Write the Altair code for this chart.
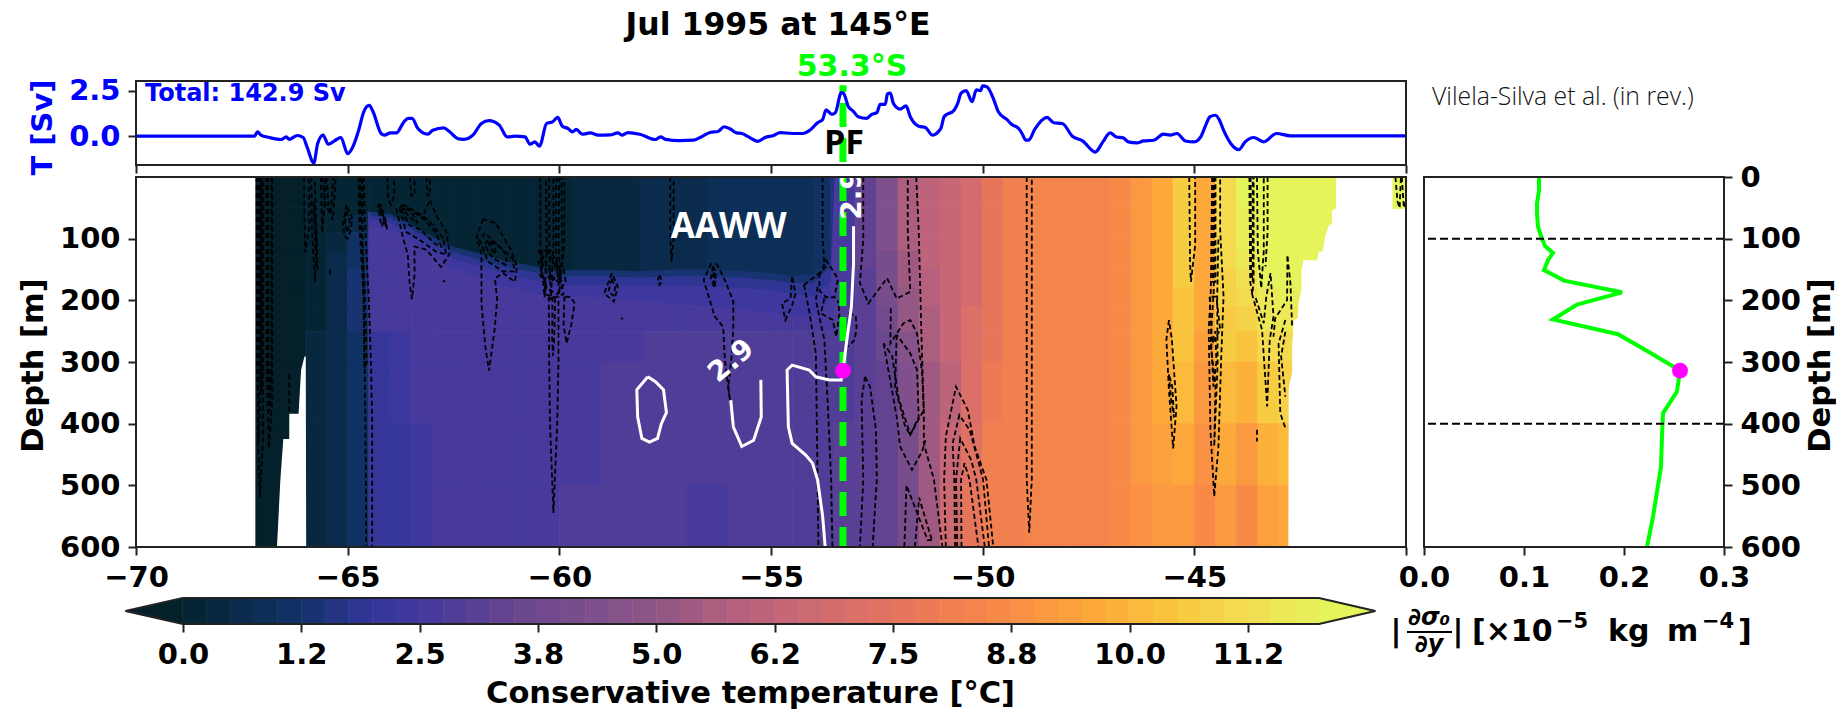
import altair as alt
import numpy as np
import pandas as pd

TITLE = "Jul 1995 at 145°E"
LON_TICKS = [-70, -65, -60, -55, -50, -45, -40]
DEPTH_TICKS = [100, 200, 300, 400, 500, 600]
CBAR_TICKS = [0, 1.25, 2.5, 3.75, 5, 6.25, 7.5, 8.75, 10, 11.25]
CBAR_LABELS = ["0.0", "1.2", "2.5", "3.8", "5.0", "6.2", "7.5", "8.8", "10.0", "11.2"]

TRANSPORT_LON = [-70, -67.2, -67.13, -67.05, -66.85, -66.57, -66.45, -66.38, -66.19, -66.05, -65.96, -65.80, -65.71, -65.58, -65.46, -65.26, -65.16, -65.00, -64.88, -64.74, -64.62, -64.49, -64.40, -64.21, -64.13, -63.99, -63.85, -63.67, -63.57, -63.48, -63.34, -63.11, -62.99, -62.73, -62.59, -62.40, -62.26, -62.03, -61.84, -61.66, -61.42, -61.23, -61.05, -60.81, -60.69, -60.58, -60.47, -60.30, -60.16, -60.04, -59.93, -59.79, -59.69, -59.60, -59.46, -59.27, -59.08, -58.80, -58.62, -58.52, -58.38, -58.10, -57.73, -57.61, -57.49, -57.17, -56.84, -56.65, -56.42, -56.25, -56.11, -55.97, -55.81, -55.69, -55.53, -55.31, -55.14, -54.94, -54.78, -54.50, -54.26, -54.06, -53.90, -53.78, -53.70, -53.56, -53.48, -53.34, -53.29, -53.17, -53.06, -52.94, -52.74, -52.62, -52.50, -52.42, -52.30, -52.25, -52.18, -52.11, -51.95, -51.81, -51.71, -51.51, -51.35, -51.19, -50.99, -50.91, -50.83, -50.71, -50.59, -50.51, -50.39, -50.25, -50.15, -50.05, -50.0, -49.89, -49.75, -49.63, -49.43, -49.31, -49.15, -49.07, -48.98, -48.92, -48.76, -48.48, -48.32, -48.12, -47.88, -47.64, -47.34, -47.16, -46.99, -46.84, -46.68, -46.56, -46.36, -46.20, -45.96, -45.73, -45.57, -45.41, -45.21, -45.0, -44.85, -44.73, -44.63, -44.5, -44.4, -44.31, -44.07, -43.95, -43.8, -43.6, -43.36, -43.06, -42.73, -40]
TRANSPORT_SV = [0, 0, .24, .06, -.07, -.18, -.04, -.17, .04, -.07, -.59, -1.47, -.41, .06, -.44, -.18, -.07, -.96, -.59, .33, 1.34, 1.69, 1.34, .15, .06, .18, .18, .79, .98, .98, .42, .11, .33, .46, .24, -.13, -.17, .09, .70, .85, .61, -.04, 0, -.04, -.44, -.31, -.55, .70, .79, 1.03, .55, .42, .24, .37, .11, .18, .06, .07, .18, .06, .20, .11, -.18, -.04, -.17, -.24, -.22, -.04, .22, .26, .52, .41, .18, .15, -.04, -.28, -.07, .04, .20, .15, .15, .37, .74, .92, 1.44, 1.20, 1.29, 2.39, 2.36, 1.62, 1.38, 1.07, .98, 1.20, 1.29, 1.75, 1.75, 2.32, 2.36, 1.80, 1.49, 1.66, 1.07, .55, .48, .06, .42, 1.07, 1.22, 1.34, 1.80, 2.36, 2.50, 1.90, 2.54, 2.50, 2.76, 2.69, 2.08, 1.34, .92, .64, .42, .15, -.22, -.22, .42, 1.03, .74, .70, 0, -.26, -.87, -.31, .18, -.04, -.09, -.31, -.37, -.26, -.22, .11, .06, .15, -.26, -.31, -.04, .61, 1.07, 1.15, .85, .33, -.59, -.74, -.31, -.07, -.31, .15, .02, .02]

GRAD_DEPTH = [0, 22, 43, 59, 81, 100, 112, 123, 135, 151, 168, 187, 207, 231, 255, 283, 314, 348, 383, 421, 470, 551, 600]
GRAD_VALUE = [.115, .115, .113, .113, .114, .118, .121, .129, .124, .120, .14, .198, .153, .129, .194, .224, .256, .253, .239, .238, .237, .229, .223]

LON_EDGES = [-67.17, -66.5, -66, -65.5, -65, -64.5, -64, -63.5, -63, -62, -61, -60, -59, -58, -57, -56, -55, -54.5, -54, -53.5, -53, -52.5, -52, -51.5, -51, -50.5, -50, -49.5, -49, -48, -47, -46.5, -46, -45.5, -45, -44.5, -44, -43.5, -43, -42.5, -41.65]
DEPTH_EDGES = [0, 50, 90, 120, 150, 180, 210, 250, 300, 400, 500, 600]
T_0_50 = [-0.1, -0.1, 0.05, 0.1, 0.1, 2.55, 2.55, 2.55, 2.55, 2.55, 2.55, 2.55, 2.55, 2.55, 2.55, 2.55, 2.55, 2.55, 2.55, 2.6, 3.3, 4.4, 5.6, 6.0, 6.3, 6.9, 7.6, 8.2, 8.3, 8.3, 8.6, 9.0, 9.6, 10.7, 9.6, 11.2, 12.0, 12.5, 12.5, 12.5]
T_50_90 = [-0.1, -0.1, 0.05, 0.2, 0.6, 2.55, 2.55, 2.55, 2.55, 2.55, 2.55, 2.55, 2.55, 2.55, 2.55, 2.55, 2.55, 2.55, 2.55, 2.6, 3.3, 4.4, 5.6, 6.0, 6.3, 6.9, 7.6, 8.2, 8.3, 8.3, 8.6, 9.0, 9.6, 10.7, 9.6, 11.2, 11.9, 12.4, 12.5, 12.5]
T_90_120 = [-0.1, -0.1, 0.1, 0.4, 1.1, 2.55, 2.55, 2.55, 2.55, 2.55, 2.55, 2.55, 2.55, 2.55, 2.55, 2.55, 2.55, 2.55, 2.55, 2.7, 3.3, 4.3, 5.5, 6.0, 6.3, 6.9, 7.5, 8.2, 8.3, 8.3, 8.6, 9.0, 9.5, 10.6, 9.5, 11.1, 11.8, 12.4, 12.4, 12.4]
T_120_150 = [-0.1, -0.1, 0.2, 0.6, 1.2, 2.55, 2.55, 2.55, 2.55, 2.55, 2.55, 2.55, 2.55, 2.55, 2.55, 2.55, 2.55, 2.55, 2.55, 2.7, 3.3, 4.2, 5.4, 6.0, 6.3, 6.9, 7.5, 8.2, 8.3, 8.3, 8.6, 9.0, 9.5, 10.5, 9.5, 11.0, 11.6, 12.2, 12.3, 12.3]
T_150_180 = [-0.1, -0.1, 0.2, 0.7, 1.3, 2.55, 2.55, 2.6, 2.6, 2.6, 2.6, 2.55, 2.55, 2.55, 2.55, 2.55, 2.55, 2.55, 2.55, 2.7, 3.2, 4.1, 5.3, 5.9, 6.3, 6.9, 7.5, 8.1, 8.3, 8.3, 8.6, 9.1, 9.5, 10.5, 9.5, 10.9, 11.3, 12.0, 12.1, 12.2]
T_180_210 = [-0.1, -0.1, 0.2, 0.7, 1.3, 2.55, 2.55, 2.6, 2.6, 2.6, 2.6, 2.6, 2.6, 2.6, 2.6, 2.6, 2.6, 2.6, 2.6, 2.7, 3.2, 4.0, 5.1, 5.8, 6.3, 6.9, 7.5, 8.1, 8.3, 8.3, 8.6, 9.1, 9.5, 10.4, 9.5, 10.8, 11.0, 11.7, 11.9, 12.0]
T_210_250 = [-0.1, -0.1, 0.2, 0.7, 1.3, 2.5, 2.5, 2.6, 2.6, 2.7, 2.7, 2.65, 2.65, 2.65, 2.6, 2.6, 2.6, 2.6, 2.6, 2.8, 3.2, 3.9, 5.0, 5.7, 6.3, 7.0, 7.6, 8.1, 8.3, 8.4, 8.7, 9.2, 9.6, 10.4, 9.5, 10.7, 10.8, 11.5, 11.7, 11.9]
T_250_300 = [-0.1, -0.1, 0.3, 0.7, 1.2, 2.2, 2.4, 2.6, 2.7, 2.7, 2.7, 2.7, 2.7, 2.8, 2.8, 2.8, 2.8, 2.8, 2.8, 2.95, 3.1, 3.6, 4.6, 5.6, 6.3, 7.0, 7.7, 8.2, 8.3, 8.4, 8.7, 9.2, 9.7, 10.3, 9.4, 10.5, 10.4, 11.0, 11.2, 11.4]
T_300_400 = [-0.1, -0.1, 0.3, 0.7, 1.2, 2.1, 2.3, 2.5, 2.6, 2.7, 2.7, 2.7, 2.8, 2.85, 2.85, 2.9, 2.85, 2.85, 2.85, 2.95, 3.1, 3.4, 4.3, 5.4, 6.2, 7.0, 7.8, 8.2, 8.3, 8.4, 8.7, 9.2, 9.6, 10.0, 9.2, 10.1, 9.9, 10.6, 10.8, 11.0]
T_400_500 = [-0.1, -0.1, 0.3, 0.7, 1.1, 2.0, 2.2, 2.4, 2.6, 2.7, 2.7, 2.7, 2.8, 2.85, 2.85, 2.9, 2.85, 2.85, 2.9, 3.0, 3.1, 3.4, 4.2, 5.3, 6.3, 7.4, 8.0, 8.2, 8.3, 8.4, 8.6, 9.0, 9.3, 9.6, 8.8, 9.5, 9.1, 9.8, 10.2, 10.2]
T_500_600 = [-0.1, -0.1, 0.3, 0.7, 1.2, 2.0, 2.2, 2.3, 2.5, 2.6, 2.7, 2.75, 2.8, 2.8, 2.7, 2.9, 2.9, 2.9, 2.95, 3.0, 3.1, 3.4, 4.2, 5.3, 6.5, 7.6, 8.1, 8.2, 8.3, 8.4, 8.5, 8.8, 9.0, 9.2, 8.6, 9.2, 8.7, 9.3, 9.7, 9.8]
T_ROWS = [T_0_50, T_50_90, T_90_120, T_120_150, T_150_180, T_180_210, T_210_250, T_250_300, T_300_400, T_400_500, T_500_600]

# depth of the cold AAWW layer's base, read along longitude, one list per isotherm
BASE_LON = [-64.48, -64.0, -63.46, -62.99, -62.5, -61.88, -61.25, -60.7, -60.07, -59.68, -58.9, -58.1, -57.3, -56.5, -55.7, -55.0, -54.5, -54.0, -53.6, -53.5]
BASE_T10 = [56, 60, 78, 97, 113, 124, 137, 143, 153, 151, 151, 153, 150, 150, 152, 156, 160, 158, 130, 0]
BASE_T15 = [62, 66, 85, 105, 122, 134, 147, 153, 163, 161, 161, 163, 161, 161, 163, 167, 172, 172, 145, 0]
BASE_T20 = [68, 74, 94, 115, 133, 145, 158, 166, 176, 175, 175, 177, 176, 177, 180, 183, 190, 192, 170, 0]
BASE_T25 = [78, 85, 106, 128, 148, 162, 178, 186, 196, 194, 195, 200, 205, 210, 215, 220, 225, 225, 200, 0]
COLD_LON = [-65.2, -64.8] + BASE_LON
COLD_DEPTH = [66, 62] + BASE_T10
COLD_T = [.1, .1, .1, .1, .1, .1, .1, .1, .1, .15, .2, .3, .4, .55, .6, .75, .85, .9, .95, 1.1, 1.7]

WEST_MASK = [(-66.67, 600), (-66.59, 491), (-66.52, 425), (-66.38, 425), (-66.379, 384), (-66.16, 384), (-66.1, 313), (-66.02, 291), (-65.99, 291), (-65.98, 600)]
EAST_MASK = [(-42.78, 600), (-42.77, 340), (-42.69, 318), (-42.689, 275), (-42.65, 232), (-42.56, 229), (-42.54, 205), (-42.47, 183), (-42.469, 151), (-42.42, 135), (-42.1, 135), (-42.06, 121), (-41.97, 121), (-41.91, 97), (-41.83, 80), (-41.75, 75), (-41.749, 54), (-41.65, 51), (-41.649, 0), (-41.6, 0)]

LEVELS = [0.25 * i for i in range(49)]
COLOR_T = [0, 1.2, 2, 2.5, 3.5, 4.5, 5, 5.75, 6.25, 7, 7.5, 8, 8.5, 8.8, 9.5, 10, 10.5, 11.25, 12]
COLOR_HEX = ["#04232f", "#113266", "#33359a", "#42389e", "#68458f", "#82528a", "#8f5686", "#b25f7e", "#c26579", "#d76e6b", "#e2745f", "#ef7d52", "#f6874a", "#fb8f45", "#fca43b", "#fcb53a", "#f8c840", "#f3dd52", "#e6f25a"]

BLACK_CONTOURS = [
    [(-67.12, 0), (-67.12, 420), (-67.07, 520), (-67.0, 420), (-67.0, 0)],
    [(-67.07, 0), (-67.07, 300), (-67.04, 350), (-67.02, 300), (-67.03, 0)],
    [(-67.15, 0), (-67.14, 300), (-67.1, 430), (-67.05, 300), (-67.05, 0)],
    [(-66.92, 0), (-66.91, 300), (-66.86, 440), (-66.78, 360), (-66.78, 0)],
    [(-66.88, 0), (-66.87, 300), (-66.84, 380), (-66.8, 300), (-66.8, 0)],
    [(-66.38, 320), (-66.38, 384)],
    [(-66.03, 0), (-66.02, 60), (-66.0, 122), (-65.9, 80), (-65.92, 0)],
    [(-65.86, 0), (-65.84, 90), (-65.77, 170), (-65.73, 100), (-65.78, 0)],
    [(-65.80, 40), (-65.72, 120), (-65.71, 150), (-65.76, 120), (-65.80, 40)],
    [(-65.63, 0), (-65.62, 40), (-65.6, 90), (-65.55, 50), (-65.52, 0)],
    [(-65.5, 0), (-65.45, 50), (-65.35, 70), (-65.28, 0)],
    [(-65.58, 0), (-65.55, 40), (-65.4, 60), (-65.34, 0)],
    [(-65.42, 150), (-65.42, 160)],
    [(-65.03, 45), (-65.11, 75), (-65.08, 95), (-65.0, 100), (-64.92, 85), (-64.9, 65), (-65.03, 45)],
    [(-65.03, 55), (-65.07, 75), (-65.0, 90), (-64.95, 70), (-65.03, 55)],
    [(-64.74, 0), (-64.72, 80), (-64.66, 150), (-64.62, 200), (-64.6, 300), (-64.58, 400), (-64.56, 600)],
    [(-64.62, 0), (-64.6, 60), (-64.55, 130), (-64.5, 200), (-64.45, 300), (-64.42, 400), (-64.42, 600)],
    [(-64.7, 0), (-64.68, 90), (-64.6, 170), (-64.55, 300), (-64.6, 310), (-64.62, 220), (-64.64, 130), (-64.66, 0)],
    [(-64.29, 45), (-64.22, 45), (-64.1, 70), (-64.07, 85), (-64.12, 70), (-64.2, 80), (-64.25, 60), (-64.29, 45)],
    [(-64.25, 48), (-64.15, 65), (-64.1, 80), (-64.2, 60), (-64.25, 48)],
    [(-64.06, 0), (-64.05, 35), (-63.98, 45), (-63.9, 30), (-63.9, 0)],
    [(-63.53, 0), (-63.5, 30), (-63.42, 30), (-63.42, 0)],
    [(-63.14, 0), (-63.12, 30), (-63.06, 30), (-63.06, 0)],
    [(-63.85, 51), (-63.69, 99), (-63.58, 126), (-63.54, 170), (-63.48, 198), (-63.42, 159), (-63.42, 113), (-63.14, 118), (-62.79, 146), (-62.59, 124), (-62.67, 89), (-62.91, 62), (-63.06, 37), (-63.24, 67)],
    [(-63.77, 51), (-63.62, 89), (-63.3, 102), (-62.91, 121), (-62.67, 126), (-62.75, 99), (-63.06, 72), (-63.38, 56), (-63.69, 45), (-63.77, 51)],
    [(-63.73, 53), (-63.54, 78), (-63.26, 86), (-62.95, 108), (-62.79, 113), (-62.91, 91), (-63.18, 70), (-63.54, 51), (-63.73, 53)],
    [(-63.75, 45), (-63.6, 60), (-63.45, 70), (-63.35, 75), (-63.5, 55), (-63.7, 50), (-63.75, 45)],
    [(-62.75, 168), (-62.7, 170)],
    [(-61.8, 68), (-61.95, 97), (-61.84, 126), (-61.84, 205), (-61.75, 275), (-61.66, 314), (-61.53, 248), (-61.47, 199), (-61.52, 164), (-61.33, 156), (-61.05, 170), (-61.0, 145), (-61.14, 118), (-61.3, 100), (-61.5, 75), (-61.8, 68)],
    [(-61.76, 91), (-61.88, 102), (-61.69, 137), (-61.33, 153), (-61.06, 153), (-61.1, 132), (-61.41, 113), (-61.76, 91)],
    [(-61.69, 102), (-61.77, 110), (-61.57, 132), (-61.25, 143), (-61.25, 126), (-61.49, 108), (-61.69, 102)],
    [(-61.68, 105), (-61.6, 118), (-61.5, 125), (-61.55, 110), (-61.68, 105)],
    [(-60.45, 0), (-60.45, 120), (-60.35, 195), (-60.3, 120), (-60.31, 0)],
    [(-60.24, 0), (-60.24, 110), (-60.2, 200), (-60.14, 110), (-60.14, 0)],
    [(-60.07, 0), (-60.08, 120), (-60.0, 190), (-59.93, 120), (-59.95, 0)],
    [(-60.0, 0), (-60.02, 110), (-59.98, 170), (-59.88, 110), (-59.88, 0)],
    [(-60.5, 120), (-60.4, 130), (-60.45, 160), (-60.3, 175), (-60.35, 190), (-60.1, 195), (-59.9, 190), (-60, 150), (-60.2, 120), (-60.5, 120)],
    [(-60.5, 135), (-60.3, 180), (-60.05, 190), (-59.85, 170), (-59.9, 150), (-60.2, 170), (-60.4, 140), (-60.5, 135)],
    [(-60.42, 125), (-60.25, 150), (-60.1, 170), (-60.0, 165), (-60.15, 135), (-60.35, 118), (-60.42, 125)],
    [(-60.25, 194), (-60.24, 300), (-60.22, 400), (-60.14, 545), (-60.05, 400), (-60.02, 300), (-60.02, 194)],
    [(-60.16, 194), (-60.17, 260), (-60.15, 290), (-60.12, 260), (-60.1, 194)],
    [(-59.88, 194), (-59.9, 240), (-59.83, 270), (-59.72, 240), (-59.64, 205), (-59.72, 195), (-59.88, 194)],
    [(-58.76, 156), (-58.94, 189), (-58.71, 202), (-58.62, 178), (-58.76, 156)],
    [(-58.76, 165), (-58.84, 186), (-58.72, 192), (-58.68, 178), (-58.76, 165)],
    [(-58.54, 229), (-58.5, 230)],
    [(-57.63, 160), (-57.68, 168), (-57.63, 175), (-57.58, 168), (-57.63, 160)],
    [(-57.38, 0), (-57.38, 100), (-57.35, 137), (-57.3, 100), (-57.3, 0)],
    [(-56.41, 140), (-56.59, 167), (-56.33, 226), (-56.13, 243), (-56.09, 297), (-55.97, 362)],
    [(-56.29, 140), (-56.09, 167), (-55.89, 202), (-55.89, 243), (-55.93, 291), (-56.01, 340), (-55.97, 362)],
    [(-56.37, 145), (-56.42, 165), (-56.33, 180), (-56.3, 155), (-56.37, 145)],
    [(-56.35, 155), (-56.38, 165), (-56.33, 172), (-56.32, 160), (-56.35, 155)],
    [(-54.5, 162), (-54.54, 197), (-54.74, 205), (-54.66, 232), (-54.5, 208), (-54.42, 189), (-54.5, 162)],
    [(-53.78, 0), (-53.78, 100), (-53.74, 140)],
    [(-54.22, 175), (-54.1, 216), (-53.94, 286), (-53.9, 491), (-53.88, 600)],
    [(-53.9, 178), (-53.94, 200), (-53.74, 264), (-53.66, 367), (-53.58, 491), (-53.55, 600)],
    [(-53.86, 160), (-53.7, 135), (-53.6, 145), (-53.42, 165), (-53.5, 195), (-53.7, 195), (-53.85, 185), (-53.86, 160)],
    [(-54.22, 175), (-53.86, 156), (-53.7, 145)],
    [(-53.74, 197), (-53.82, 221), (-53.54, 232), (-53.46, 259), (-53.38, 221), (-53.42, 200)],
    [(-53.17, 221), (-53.0, 225), (-52.98, 243), (-53.02, 264), (-53.18, 275)],
    [(-52.78, 324), (-52.86, 362), (-52.82, 491), (-52.9, 600)],
    [(-52.78, 324), (-52.66, 340), (-52.52, 410), (-52.5, 491), (-52.6, 600)],
    [(-52.82, 0), (-52.82, 100), (-52.9, 172), (-52.7, 205), (-52.26, 164), (-52.03, 197), (-51.71, 186), (-51.77, 86), (-51.77, 0)],
    [(-51.57, 0), (-51.51, 86), (-51.45, 248), (-51.39, 383), (-51.39, 432), (-51.15, 491), (-50.95, 600)],
    [(-52.17, 213), (-52.18, 270), (-51.87, 237), (-51.71, 232), (-51.55, 254), (-51.43, 318), (-51.39, 378), (-51.71, 418), (-51.98, 360), (-52.14, 290), (-52.34, 270)],
    [(-52.34, 270), (-52.03, 389), (-51.95, 437), (-51.67, 475), (-51.43, 445), (-51.35, 427)],
    [(-52.03, 256), (-52.07, 340), (-51.83, 405), (-51.71, 418), (-51.51, 389), (-51.55, 313), (-51.71, 286), (-52.03, 256)],
    [(-51.85, 600), (-51.8, 500), (-51.3, 589), (-51.2, 589)],
    [(-51.6, 600), (-51.5, 520), (-51.2, 589)],
    [(-50.87, 600), (-50.91, 491), (-50.87, 421), (-50.63, 340), (-50.35, 378), (-50.19, 437), (-49.91, 491), (-49.75, 600)],
    [(-50.65, 600), (-50.67, 491), (-50.71, 432), (-50.55, 386), (-50.31, 410), (-50.11, 459), (-49.99, 491), (-49.85, 600)],
    [(-50.6, 600), (-50.63, 491), (-50.53, 424), (-50.27, 459), (-50.15, 491), (-49.95, 600)],
    [(-50.5, 600), (-50.51, 491), (-50.43, 464), (-50.31, 491), (-50.1, 600)],
    [(-48.96, 0), (-48.96, 490), (-48.9, 577), (-48.84, 490), (-48.84, 0)],
    [(-45.12, 0), (-45.1, 140), (-45.08, 170), (-44.98, 110), (-44.98, 0)],
    [(-45.6, 232), (-45.66, 264), (-45.6, 345), (-45.5, 440), (-45.42, 372), (-45.53, 264), (-45.6, 232)],
    [(-45.6, 320), (-45.55, 360), (-45.48, 390), (-45.52, 340), (-45.6, 320)],
    [(-44.58, 0), (-44.61, 183), (-44.66, 248), (-44.62, 410), (-44.53, 518), (-44.43, 437), (-44.37, 302), (-44.31, 194), (-44.39, 86), (-44.39, 0)],
    [(-44.53, 0), (-44.54, 183), (-44.62, 270), (-44.5, 335), (-44.53, 437), (-44.45, 302), (-44.46, 194), (-44.43, 97)],
    [(-44.64, 194), (-44.58, 270), (-44.39, 248), (-44.48, 194), (-44.64, 194)],
    [(-44.56, 0), (-44.56, 170), (-44.5, 170), (-44.5, 0)],
    [(-44.6, 270), (-44.55, 340), (-44.48, 300), (-44.5, 250), (-44.6, 270)],
    [(-43.70, 0), (-43.68, 170), (-43.63, 190), (-43.6, 170), (-43.6, 0)],
    [(-43.67, 0), (-43.66, 150), (-43.62, 170), (-43.62, 0)],
    [(-43.64, 189), (-43.4, 248), (-43.28, 372), (-43.22, 265), (-43.13, 226), (-43.2, 156), (-43.3, 194), (-43.36, 237), (-43.56, 194)],
    [(-43.52, 0), (-43.5, 120), (-43.42, 180), (-43.36, 120), (-43.36, 0)],
    [(-43.27, 0), (-43.27, 90), (-43.32, 145)],
    [(-42.8, 129), (-42.81, 200), (-43.09, 229), (-43.13, 259)],
    [(-42.8, 129), (-42.73, 172), (-42.69, 243)],
    [(-42.85, 232), (-43.01, 270), (-42.97, 383), (-42.85, 407)],
    [(-42.85, 251), (-42.95, 291), (-42.85, 356)],
    [(-43.52, 410), (-43.52, 429)],
    [(-40.25, 0), (-40.2, 40), (-40.15, 50), (-40.12, 0)],
    [(-40.1, 0), (-40.05, 50), (-40.0, 40)],
]

WHITE_CONTOURS = [
    [(-57.91, 324), (-58.17, 345), (-58.15, 389), (-58.05, 424), (-57.87, 430), (-57.68, 424), (-57.59, 400), (-57.47, 382), (-57.54, 345), (-57.73, 332), (-57.91, 324)],
    [(-55.95, 362), (-55.89, 405), (-55.69, 437), (-55.41, 427), (-55.23, 389), (-55.24, 329)],
    [(-53.72, 600), (-53.78, 550), (-53.9, 491), (-54.02, 464), (-54.18, 451), (-54.5, 432), (-54.59, 405), (-54.62, 313), (-54.5, 305), (-54.1, 313), (-53.94, 324), (-53.62, 329), (-53.34, 329), (-53.3, 313), (-53.22, 270), (-53.1, 210), (-53.05, 140), (-53.05, 80)],
]


def long_table(lines):
    rows = []
    for k, line in enumerate(lines):
        for i, (lon, depth) in enumerate(line):
            rows.append({"id": k, "i": i, "lon": lon, "depth": depth})
    return pd.DataFrame(rows)


bin_centres = [LEVELS[0] - 0.125] + [v + 0.125 for v in LEVELS[:-1]] + [12.5]
rgb = np.array([[int(h[j:j + 2], 16) for j in (1, 3, 5)] for h in COLOR_HEX], float)
BIN_COLORS = ["#%02x%02x%02x" % tuple(int(round(np.interp(c, COLOR_T, rgb[:, j]))) for j in range(3)) for c in bin_centres]
BIN_COLORS[0] = "#03202b"
BIN_COLORS[-1] = "#e4f45a"

field = []
for r, row in enumerate(T_ROWS):
    for c, t in enumerate(row):
        field.append({"lon0": LON_EDGES[c], "lon1": LON_EDGES[c + 1], "d0": DEPTH_EDGES[r], "d1": DEPTH_EDGES[r + 1], "t": t})
field.append({"lon0": -40.31, "lon1": -40, "d0": 0, "d1": 51, "t": 12.5})
field = pd.DataFrame(field)

W, H, TOP_H, RW, CB_H = 1270, 370, 84, 300, 65
FONT = "DejaVu Sans"
INK = "#222222"
BLUE = "#0000ff"
GREEN = "#00ff00"
MAGENTA = "#ff00ff"

AX = dict(domain=False, grid=False, tickColor=INK, tickWidth=2, tickSize=8, labelFont=FONT,
          labelFontSize=29, labelFontWeight="bold", labelColor="black", labelPadding=8,
          labelOverlap=False, labelFlush=False, titleFont=FONT, titleFontSize=30.5,
          titleFontWeight="bold", titleColor="black", titleBaseline="middle", titleAnchor="middle", zindex=1)

lon_scale = alt.Scale(domain=[-70, -40], nice=False, zero=False)
depth_scale = alt.Scale(domain=[0, 600], reverse=True, nice=False, zero=False)
sv_scale = alt.Scale(domain=[-1.58, 3.03], nice=False, zero=False)
grad_scale = alt.Scale(domain=[0, 0.3], nice=False, zero=False)
t_scale = alt.Scale(type="threshold", domain=LEVELS, range=BIN_COLORS)

top_x_axis = alt.Axis(values=LON_TICKS, labels=False, title=None, **AX)
top_y_axis = alt.Axis(values=[0, 2.5], format=".1f", title="T [Sv]", titleX=-94, titleY=46, titleAngle=270,
                      **{**AX, "labelColor": BLUE, "titleColor": BLUE, "titleFontSize": 29})
main_x_axis = alt.Axis(values=LON_TICKS, labelExpr="datum.value==-40?'':datum.label", title=None, **AX)
main_y_axis = alt.Axis(values=DEPTH_TICKS, title="Depth [m]", titleX=-103, titleY=188, titleAngle=270, **AX)
right_x_axis = alt.Axis(values=[0, 0.1, 0.2, 0.3], format=".1f", title=None, **AX)
right_y_axis = alt.Axis(values=[0, 100, 200, 300, 400, 500, 600], orient="right", title="Depth [m]",
                        titleX=96, titleY=188, titleAngle=270, **AX)


def lon_x(field_name="lon:Q", axis=main_x_axis):
    return alt.X(field_name, scale=lon_scale, axis=axis, title=None)


def depth_y(field_name="depth:Q", axis=main_y_axis):
    return alt.Y(field_name, scale=depth_scale, axis=axis, title=None)


def frame(w, h):
    return alt.Chart(pd.DataFrame({"a": [0]})).mark_rect(fill="transparent", stroke=INK, strokeWidth=2).encode(
        x=alt.value(0), x2=alt.value(w), y=alt.value(0), y2=alt.value(h))


def px_text(txt, x, y, size=29, color="black", align="center", font=FONT, weight="bold", style="normal"):
    return alt.Chart(pd.DataFrame({"a": [0]})).mark_text(
        text=txt, font=font, fontSize=size, fontWeight=weight, fontStyle=style, color=color, align=align, baseline="middle"
    ).encode(x=alt.value(x), y=alt.value(y))


# ---- top panel
sv_df = pd.DataFrame({"lon": TRANSPORT_LON, "sv": TRANSPORT_SV})
top = alt.layer(
    alt.Chart(pd.DataFrame({"lon": [-53.3], "a": [-1.42], "b": [2.8]})).mark_rule(
        color=GREEN, strokeWidth=7, strokeDash=[24, 11]).encode(
        x=lon_x(axis=top_x_axis), y=alt.Y("a:Q", scale=sv_scale, axis=top_y_axis, title=None), y2="b:Q"),
    alt.Chart(sv_df).mark_line(color=BLUE, strokeWidth=3.2, interpolate="monotone", strokeJoin="round").encode(
        x=lon_x(axis=top_x_axis), y=alt.Y("sv:Q", scale=sv_scale, axis=top_y_axis, title=None), order="lon:Q"),
    px_text("Total: 142.9 Sv", 9, 13, size=24, color=BLUE, align="left"),
    px_text("PF", 708, 63, size=34, font="Open Sans"),
    px_text(TITLE, 642, -55, size=31.5),
    px_text("53.3°S", 716, -14, size=30, color=GREEN),
    frame(W, TOP_H),
).properties(width=W, height=TOP_H)

spacer = px_text("Vilela-Silva et al. (in rev.)", 8, 17, size=24.8, color="#111111", align="left",
                 font="Open Sans", weight=300).properties(width=RW, height=TOP_H)

# ---- main panel
field_layer = alt.Chart(field).mark_rect(strokeWidth=0.8, clip=True).encode(
    x=lon_x("lon0:Q"), x2="lon1:Q", y=depth_y("d0:Q"), y2="d1:Q",
    color=alt.Color("t:Q", scale=t_scale, legend=None),
    stroke=alt.Stroke("t:Q", scale=t_scale, legend=None))


def band(depths, t):
    df = pd.DataFrame({"lon": BASE_LON, "depth": depths, "b": 0, "t": t})
    return alt.Chart(df).mark_area(clip=True).encode(
        x=lon_x(), y=depth_y(), y2="b:Q", color=alt.Color("t:Q", scale=t_scale, legend=None))


cold_rows = []
for s, t in enumerate(COLD_T):
    cold_rows.append({"seg": s, "lon": COLD_LON[s], "depth": COLD_DEPTH[s], "b": 0, "t": t})
    cold_rows.append({"seg": s, "lon": COLD_LON[s + 1], "depth": COLD_DEPTH[s + 1], "b": 0, "t": t})
cold = alt.Chart(pd.DataFrame(cold_rows)).mark_area(clip=True).encode(
    x=lon_x(), y=depth_y(), y2="b:Q", detail="seg:N", color=alt.Color("t:Q", scale=t_scale, legend=None))


def mask(points):
    df = pd.DataFrame(points, columns=["lon", "depth"]).assign(b=600)
    return alt.Chart(df).mark_area(color="white", clip=True).encode(
        x=lon_x(), y=depth_y(), y2="b:Q")


black = alt.Chart(long_table(BLACK_CONTOURS)).mark_line(
    color="black", strokeWidth=1.8, strokeDash=[5, 3], clip=True).encode(
    x=lon_x(), y=depth_y(), detail="id:N", order="i:Q")
green_rule = alt.Chart(pd.DataFrame({"lon": [-53.3], "a": [0], "b": [600]})).mark_rule(
    color=GREEN, strokeWidth=7, strokeDash=[24, 11]).encode(
    x=lon_x(), y=depth_y("a:Q"), y2="b:Q")
white = alt.Chart(long_table(WHITE_CONTOURS)).mark_line(color="white", strokeWidth=3, clip=True).encode(
    x=lon_x(), y=depth_y(), detail="id:N", order="i:Q")
pf_dot = alt.Chart(pd.DataFrame({"lon": [-53.3], "depth": [314]})).mark_point(
    filled=True, color=MAGENTA, size=250, opacity=1).encode(x=lon_x(), y=depth_y())


def data_text(txt, lon, depth, size, angle=0, font=FONT):
    return alt.Chart(pd.DataFrame({"lon": [lon], "depth": [depth]})).mark_text(
        text=txt, color="white", font=font, fontSize=size, fontWeight="bold", angle=angle, clip=True,
        align="center", baseline="middle").encode(x=lon_x(), y=depth_y())


main = alt.layer(
    field_layer, band(BASE_T25, 2.3), band(BASE_T20, 1.8), band(BASE_T15, 1.3), cold,
    mask(WEST_MASK), mask(EAST_MASK), black, green_rule, white, pf_dot,
    data_text("2.9", -55.93, 299, 28, angle=320),
    data_text("2.9", -53.06, 29, 28, angle=270),
    data_text("AAWW", -56.0, 81, 35, font="Open Sans"),
    frame(W, H),
).properties(width=W, height=H)

# ---- right panel
grad_df = pd.DataFrame({"v": GRAD_VALUE, "depth": GRAD_DEPTH})
right = alt.layer(
    alt.Chart(grad_df).mark_line(color=GREEN, strokeWidth=4).encode(
        x=alt.X("v:Q", scale=grad_scale, axis=right_x_axis, title=None),
        y=depth_y(axis=right_y_axis), order="depth:Q"),
    alt.Chart(pd.DataFrame({"depth": [100, 400]})).mark_rule(color="black", strokeWidth=2, strokeDash=[8, 4]).encode(
        y=depth_y(axis=right_y_axis)),
    alt.Chart(pd.DataFrame({"v": [0.256], "depth": [314]})).mark_point(
        filled=True, color=MAGENTA, size=250, opacity=1).encode(
        x=alt.X("v:Q", scale=grad_scale, axis=right_x_axis, title=None), y=depth_y(axis=right_y_axis)),
    frame(RW, H),
    px_text("|", -28, 455, size=30),
    px_text("∂σ₀", 5, 441, size=24, style="italic"),
    px_text("∂y", 5, 468, size=24, style="italic"),
    alt.Chart(pd.DataFrame({"a": [0]})).mark_rule(color="black", strokeWidth=2).encode(
        x=alt.value(-17), x2=alt.value(28), y=alt.value(455)),
    px_text("|", 34, 455, size=30),
    px_text("[×10", 48, 455, size=30, align="left"),
    px_text("−5", 132, 445, size=21, align="left"),
    px_text("kg", 184, 455, size=30, align="left"),
    px_text("m", 243, 455, size=30, align="left"),
    px_text("−4", 278, 445, size=21, align="left"),
    px_text("]", 314, 455, size=30, align="left"),
).properties(width=RW, height=H)

# ---- colour bar
cb_x = alt.Scale(domain=[0, 12], range=[46.9, 1183], nice=False, zero=False)
cb_y = alt.Scale(domain=[0, 1], range=[CB_H, CB_H - 26], nice=False, zero=False)
expr = "''"
for v, lab in zip(CBAR_TICKS, CBAR_LABELS):
    expr = "datum.value==%s?'%s':(%s)" % (v, lab, expr)
cb_axis = alt.Axis(values=CBAR_TICKS, labelExpr=expr, title="Conservative temperature [°C]",
                   titleX=614, titleY=69, **AX)
cells = pd.DataFrame({"t0": LEVELS[:-1], "t1": LEVELS[1:], "tc": [v + 0.125 for v in LEVELS[:-1]], "y0": 0, "y1": 1})
tip_l = pd.DataFrame({"t": [-0.607, 0], "a": [0.5, 1], "b": [0.5, 0]})
tip_r = pd.DataFrame({"t": [12, 12.596], "a": [1, 0.5], "b": [0, 0.5]})


def tip(df, c):
    return alt.Chart(df).mark_area(color=c).encode(
        x=alt.X("t:Q", scale=cb_x, axis=cb_axis, title=None),
        y=alt.Y("a:Q", scale=cb_y, axis=None, title=None), y2="b:Q")


outline = pd.DataFrame({
    "t": [0, -0.607, 0, 12, 12.596, 12, 0],
    "a": [1, 0.5, 0, 0, 0.5, 1, 1],
    "i": range(7)})
cbar = alt.layer(
    alt.Chart(cells).mark_rect(strokeWidth=0.6).encode(
        x=alt.X("t0:Q", scale=cb_x, axis=cb_axis, title=None), x2="t1:Q",
        y=alt.Y("y0:Q", scale=cb_y, axis=None, title=None), y2="y1:Q",
        color=alt.Color("tc:Q", scale=t_scale, legend=None),
        stroke=alt.Stroke("tc:Q", scale=t_scale, legend=None)),
    tip(tip_l, BIN_COLORS[0]),
    tip(tip_r, BIN_COLORS[-1]),
    alt.Chart(outline).mark_line(color=INK, strokeWidth=2).encode(
        x=alt.X("t:Q", scale=cb_x, axis=cb_axis, title=None),
        y=alt.Y("a:Q", scale=cb_y, axis=None, title=None), order="i:Q"),
).properties(width=W, height=CB_H)

chart = alt.concat(top, spacer, main, right, cbar, columns=2, spacing={"row": 12, "column": 18}, bounds="flush").properties(
    padding={"left": 10, "top": 2, "right": 0, "bottom": 0}
).configure_view(strokeWidth=0)

chart.save("out.html", embed_options={"renderer": "svg", "actions": False})
